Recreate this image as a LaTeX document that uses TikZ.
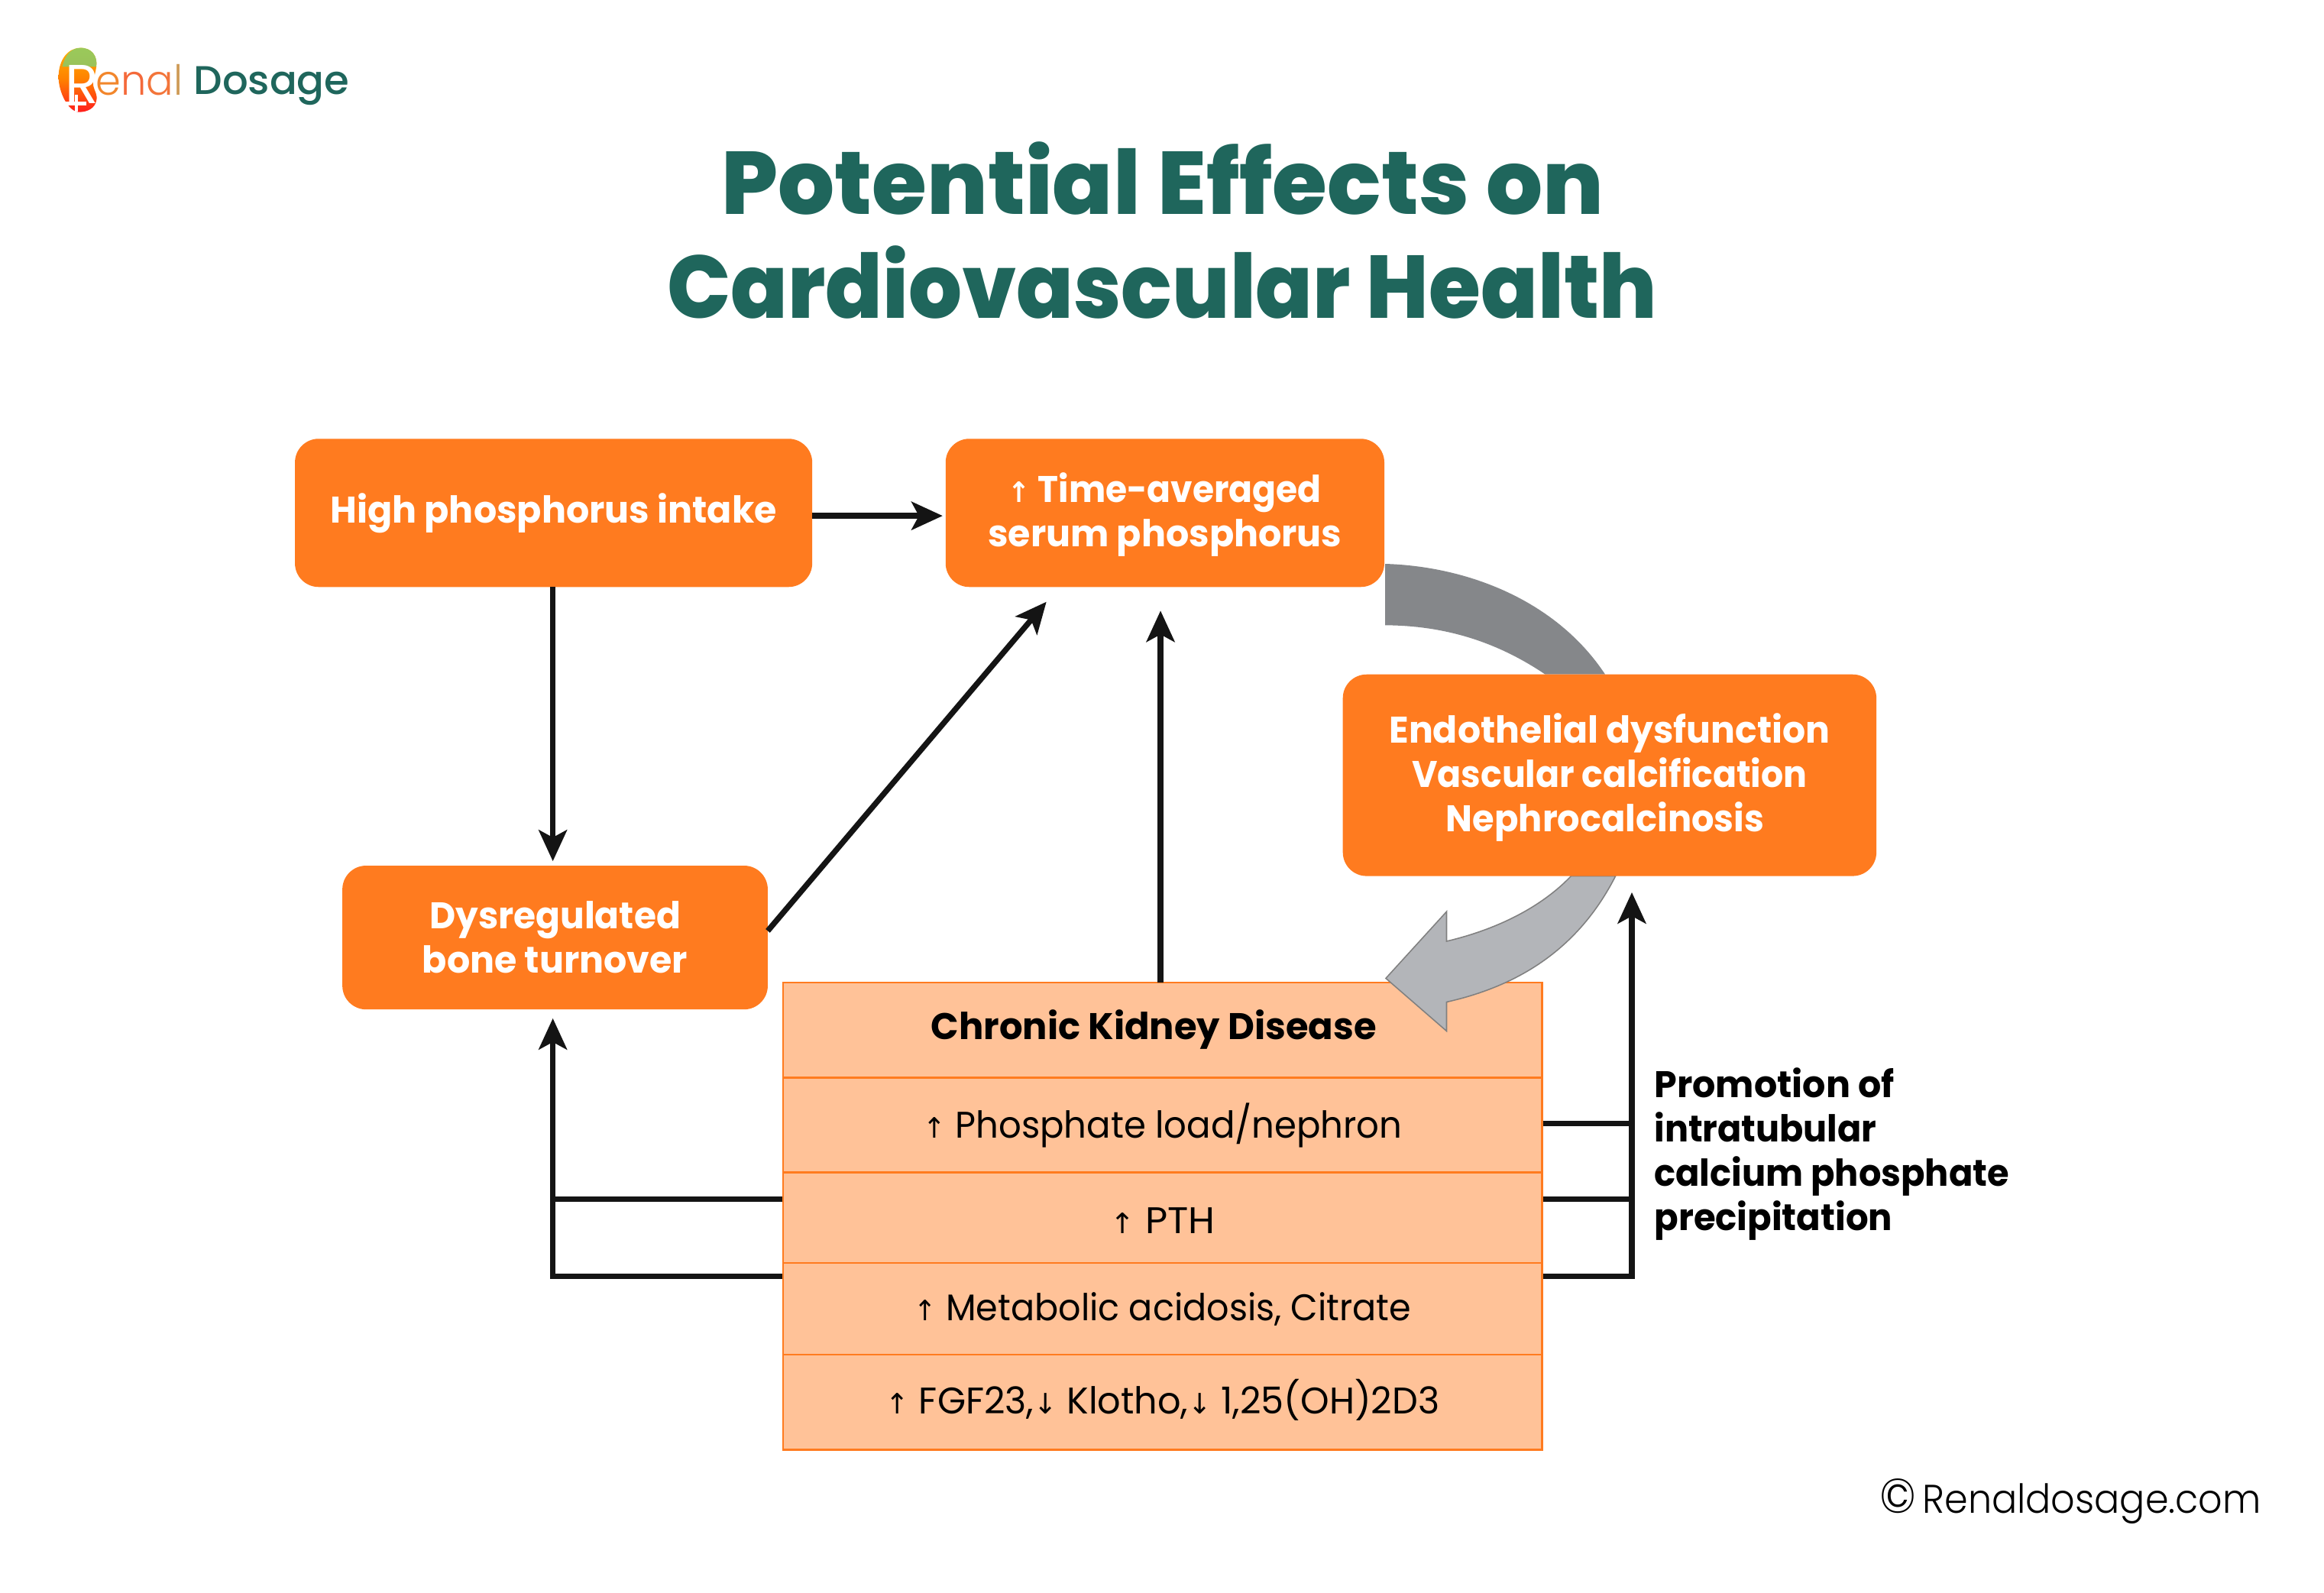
\documentclass[tikz,border=0pt]{standalone}
\usepackage{graphicx}
\usepackage{fontspec}
\setmainfont{Poppins}[BoldFont={Poppins Bold}]
\newfontfamily\arrowfont{DejaVu Sans}
\newfontfamily\lightfont{Poppins Light}
\newfontfamily\titlefont{Poppins ExtraBold}
\newfontfamily\midfont{Poppins Medium}
\usetikzlibrary{arrows.meta}
\definecolor{orbox}{HTML}{FF7B1F}
\definecolor{orrow}{HTML}{FFC298}
\definecolor{teal}{HTML}{1F665C}
\definecolor{graydark}{HTML}{85878A}
\definecolor{graylight}{HTML}{B3B5B9}
\newcommand{\up}{{\arrowfont\fontsize{19}{19}\selectfont↑}}
\newcommand{\dn}{{\arrowfont\fontsize{19}{19}\selectfont↓}}
\newcommand{\sx}[2]{\scalebox{#1}[1]{#2}}
\newcommand{\hd}[2]{\rule[-#2pt]{0pt}{\dimexpr#1pt+#2pt\relax}}
\tikzset{
  x=1pt,y=-1pt,
  obox/.style={rectangle,rounded corners=16pt,fill=orbox,inner sep=0pt,text=white,align=center,font=\fontsize{25}{30}\selectfont\bfseries},
  rowbox/.style={rectangle,fill=orrow,draw=orbox,line width=1.2pt,inner sep=0pt,minimum width=512pt,align=center,font=\fontsize{25}{30}\selectfont},
  conn/.style={draw=black!92,line width=3.8pt,-{Stealth[length=21pt,width=19pt,inset=5pt]}},
  plainconn/.style={draw=black!92,line width=3.8pt},
  ttl/.style={text=teal,font=\fontsize{60}{60}\selectfont\titlefont,inner sep=0pt},
}
\begin{document}
\begin{tikzpicture}
\useasboundingbox (0,0) rectangle (1568,1074.2);
\fill[white] (0,0) rectangle (1568,1074.2);
% logo
\shade[top color=orange!60!yellow,bottom color=red!85!pink,middle color=orange]
 (54,32.3) .. controls (62,32) and (66,38) .. (65,45) .. controls (64,52) and (62,55) .. (63,58) .. controls (64,62) and (66,64) .. (65,68) .. controls (64,73) and (59,75.6) .. (53.5,75.6) .. controls (46,75.6) and (39.5,62) .. (39.5,52) .. controls (39.5,40) and (46,32.5) .. (54,32.3) -- cycle;
\fill[green!50!gray!70!white,opacity=.75]
 (54,32.3) .. controls (62,32) and (66,38) .. (65,45) -- (42,45) .. controls (44,37) and (48,32.5) .. (54,32.3) -- cycle;
\node[text=white,font=\fontsize{37}{37}\selectfont,inner sep=0pt] (logoR) at (55.5,57) {R};
\fill[white] (44.5,68.5) rectangle (58.5,71);
\fill[white] (50.3,64) rectangle (52.8,75.5);
\node[anchor=base west,inner sep=0pt,font=\fontsize{28}{28}\selectfont\lightfont] (logoE) at (64.5,64)
 {\sx{.97}{\color[HTML]{F2862B}e\color[HTML]{F4693A}n\color[HTML]{F3753A}a\color[HTML]{CE9A55}l}};
\node[anchor=base west,inner sep=0pt,text=teal,font=\fontsize{27}{27}\selectfont\midfont] (logoD) at (130.5,63.6) {\sx{1.01}{Dosage}};
% title
\node[ttl] (t1) at (784.5,120.5) {\sx{1}{Potential Effects on}};
\node[ttl] (t2) at (784,190.5) {\sx{.945}{Cardiovascular Health}};
% table
\node[rowbox,minimum height=64pt,font=\fontsize{25}{30}\selectfont\bfseries] (row0) at (784.5,695) {\kern-12pt\hd{20}{8}\sx{.99}{Chronic Kidney Disease}};
\node[rowbox,minimum height=64pt] (row1) at (784.5,759) {\sx{.96}{\up\ Phosphate load/nephron}};
\node[rowbox,minimum height=61pt] (row2) at (784.5,821.5) {\hd{26}{5}\sx{1.04}{\up\ PTH}};
\node[rowbox,minimum height=62pt] (row3) at (784.5,883) {\sx{.95}{\up\ Metabolic acidosis, Citrate}};
\node[rowbox,minimum height=64pt] (row4) at (784.5,946) {\hd{24}{8}\sx{.985}{\up\ FGF23,\dn\ Klotho,\dn\ 1,25(OH)2D3}};
% curved arrows
\fill[graydark] (934.5,380.4) .. controls (990,382) and (1050,405) .. (1083,455) -- (1042.6,455) .. controls (1010,433) and (975,422) .. (934.5,421.8) -- cycle;
\filldraw[fill=graylight,draw=gray,line width=.8pt] (1090,591) .. controls (1065,640) and (1025,665) .. (976,676) -- (976,695.6) -- (935,660) -- (976,615) -- (976,635) .. controls (1010,627) and (1040,612) .. (1060,591) -- cycle;
% boxes
\node[obox,minimum width=349pt,minimum height=100pt] (high) at (373.5,346) {\sx{.98}{High phosphorus intake}};
\node[obox,minimum width=296pt,minimum height=100pt] (time) at (786,346) {\hd{22}{0}\sx{.94}{\up\ Time-averaged}\\\sx{.98}{serum phosphorus}};
\node[obox,minimum width=360pt,minimum height=136pt] (endo) at (1086,523) {\hd{23}{0}\sx{.975}{Endothelial dysfunction}\\\sx{.945}{Vascular calcification}\\\sx{.955}{Nephrocalcinosis}\kern 6pt};
\node[obox,minimum width=287pt,minimum height=97pt] (dys) at (374.5,632.5) {\sx{.97}{Dysregulated}\\\sx{.98}{bone turnover}};
\node[anchor=north west,align=left,inner sep=0pt,font=\fontsize{25}{30}\selectfont\bfseries] (promo) at (1116,720) {\sx{.98}{Promotion of}\\\sx{.95}{intratubular}\\\sx{.955}{calcium phosphate}\\\sx{.96}{precipitation}};
\node[anchor=base west,inner sep=0pt,font=\fontsize{27}{27}\selectfont\lightfont] (copy) at (1268,1021) {\sx{.94}{{\fontsize{33}{33}\selectfont ©}\,Renaldosage.com}};
% connectors
\coordinate (hb) at (373,396);
\coordinate (dt) at (373,581);
\coordinate (he) at (548,348);
\coordinate (te) at (636,348);
\coordinate (ds) at (518,628);
\coordinate (tt) at (706,406);
\coordinate (r0) at (783,663);
\coordinate (tb) at (783,412);
\coordinate (l2) at (528,809);
\coordinate (l3) at (528,861);
\coordinate (lb) at (373,687);
\coordinate (r1) at (1041,758);
\coordinate (r2) at (1041,809);
\coordinate (r3) at (1041,861);
\coordinate (rt) at (1101,602);
\draw[conn] (he) -- (te);
\draw[conn] (hb) -- (dt);
\draw[conn] (ds) -- (tt);
\draw[conn] (r0) -- (tb);
\draw[plainconn] (l2) -- (373,809);
\draw[conn] (l3) -- (373,861) -- (lb);
\draw[plainconn] (r1) -- (1101,758);
\draw[plainconn] (r2) -- (1101,809);
\draw[conn] (r3) -- (1101,861) -- (rt);
\end{tikzpicture}
\end{document}
